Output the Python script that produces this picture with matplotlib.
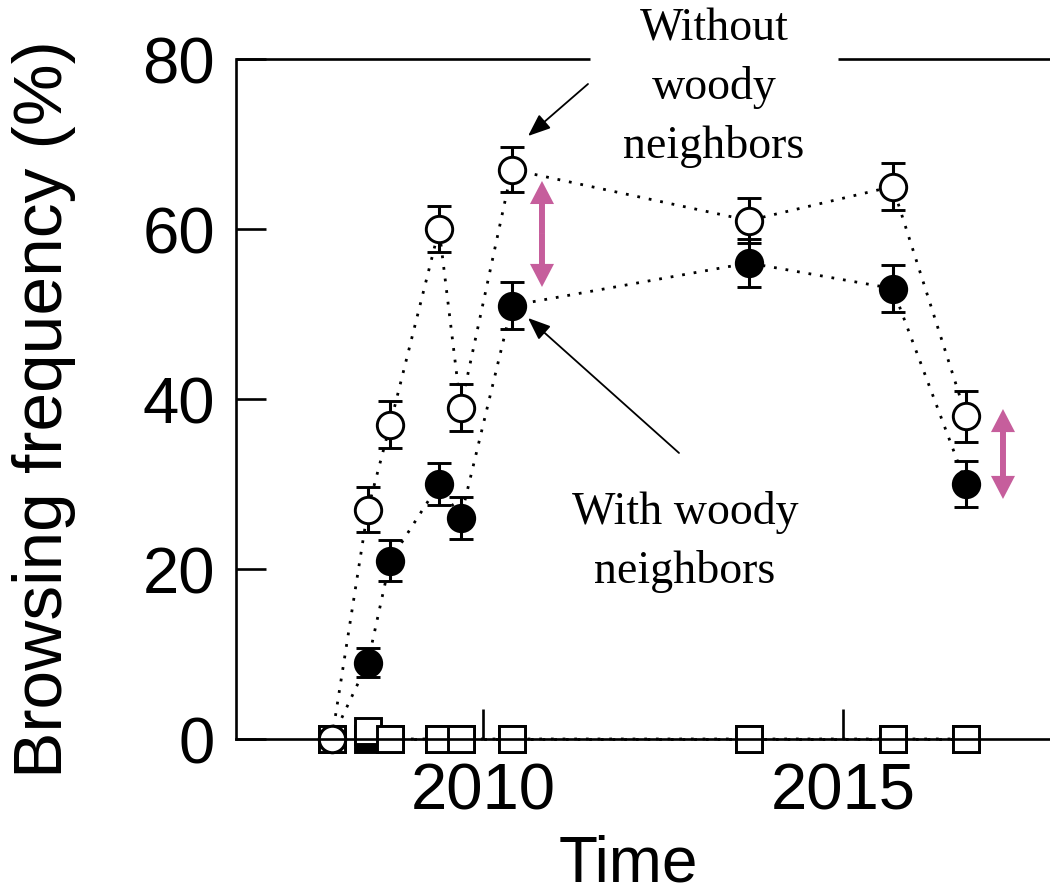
import matplotlib
matplotlib.use("Agg")
import matplotlib.pyplot as plt
from matplotlib.patches import FancyArrowPatch

# ---- data ----
years = [2007.90, 2008.40, 2008.71, 2009.39, 2009.69, 2010.40, 2013.69, 2015.69, 2016.71]
without_woody = [0, 27, 37, 60, 39, 67, 61, 65, 38]
without_err = [0, 2.6, 2.8, 2.7, 2.8, 2.7, 2.7, 2.8, 3.0]
with_woody = [0, 9, 21, 30, 26, 51, 56, 53, 30]
with_err = [0, 1.7, 2.4, 2.5, 2.5, 2.8, 2.8, 2.8, 2.7]
ctrl_without = [0, 1, 0, 0, 0, 0, 0, 0, 0]
ctrl_with = [0, 0, 0, 0, 0, 0, 0, 0, 0]
xticks = [2010, 2015]
yticks = [0, 20, 40, 60, 80]

pink = '#C65E9C'
sans = ['Liberation Sans', 'DejaVu Sans']
serif = ['Liberation Serif', 'DejaVu Serif']

fig = plt.figure(figsize=(10.5, 8.95), dpi=100)
ax = fig.add_axes([236/1050, 155/895, 814/1050, 680/895])
ax.set_xlim(2006.569, 2017.875)
ax.set_ylim(0, 80)

dot_ls = (0, (1, 3.2))
ms = 19.0
mew = 2.1

# control squares
ax.plot(years, ctrl_with, linestyle=dot_ls, lw=2.0, color='black', marker='s',
        ms=ms, mfc='black', mec='black', mew=mew, clip_on=False, zorder=2)
ax.plot(years, ctrl_without, linestyle=dot_ls, lw=2.0, color='black', marker='s',
        ms=ms, mfc='white', mec='black', mew=mew, clip_on=False, zorder=2.2)

# main series
for vals, errs, fc, z in [(with_woody, with_err, 'black', 3),
                          (without_woody, without_err, 'white', 3.2)]:
    ax.errorbar(years, vals, yerr=errs, fmt='o', linestyle=dot_ls, lw=2.0,
                color='black', ms=ms, mfc=fc, mec='black', mew=mew,
                ecolor='black', elinewidth=2.2, capsize=8.6, capthick=2.2,
                clip_on=False, zorder=z)

# spines
for s in ['left', 'bottom']:
    ax.spines[s].set_linewidth(1.9)
    ax.spines[s].set_zorder(6)
ax.spines['right'].set_visible(False)
ax.spines['top'].set_visible(False)
# top frame line broken by label
ax.plot([0, (590-236)/814], [1, 1], transform=ax.transAxes, color='black',
        lw=1.9, clip_on=False, zorder=6, solid_capstyle='butt')
ax.plot([(838-236)/814, 1], [1, 1], transform=ax.transAxes, color='black',
        lw=1.9, clip_on=False, zorder=6, solid_capstyle='butt')

ax.set_xticks(xticks)
ax.set_yticks(yticks)
ax.tick_params(axis='both', direction='in', length=21.6, width=1.9,
               labelsize=47, zorder=6)
ax.tick_params(axis='x', pad=16)
ax.tick_params(axis='y', pad=15)
for lab in ax.get_xticklabels() + ax.get_yticklabels():
    lab.set_family(sans)

fig.text(44/1050, 1 - 409/895, 'Browsing frequency (%)', rotation=90,
         ha='center', va='center', fontsize=50, family=sans)
fig.text(628/1050, 0.0, 'Time', ha='center', va='bottom',
         fontsize=46, family=sans)

# annotations (anchored at baseline of last line)
ax.text(2013.208, (740-158)/8.5, 'Without\nwoody\nneighbors', ha='center',
        va='baseline', fontsize=33, family=serif, linespacing=1.48, zorder=7)
ax.text(2012.806, (740-583)/8.5, 'With woody\nneighbors', ha='center',
        va='baseline', fontsize=33, family=serif, linespacing=1.48, zorder=7)

arrow_kw = dict(arrowstyle='-|>,head_length=0.55,head_width=0.22',
                mutation_scale=25, color='black', lw=1.3, shrinkA=0, shrinkB=0)
ax.annotate('', xy=(2010.625, 70.94), xytext=(2011.458, 77.06),
            arrowprops=arrow_kw, annotation_clip=False, zorder=7)
ax.annotate('', xy=(2010.625, 49.53), xytext=(2012.722, 33.65),
            arrowprops=arrow_kw, annotation_clip=False, zorder=7)

# pink double arrows
def double_arrow(x, y0, y1):
    mid = (y0 + y1) / 2
    for end in (y0, y1):
        p = FancyArrowPatch((x, mid), (x, end),
                            arrowstyle='simple,head_length=1.66,head_width=1.73,tail_width=0.43',
                            mutation_scale=10, color=pink, lw=0,
                            shrinkA=0, shrinkB=0, clip_on=False, zorder=4)
        ax.add_patch(p)

double_arrow(2010.819, 53.18, 65.65)
double_arrow(2017.222, 28.24, 38.82)

fig.savefig('out.png', dpi=100)
